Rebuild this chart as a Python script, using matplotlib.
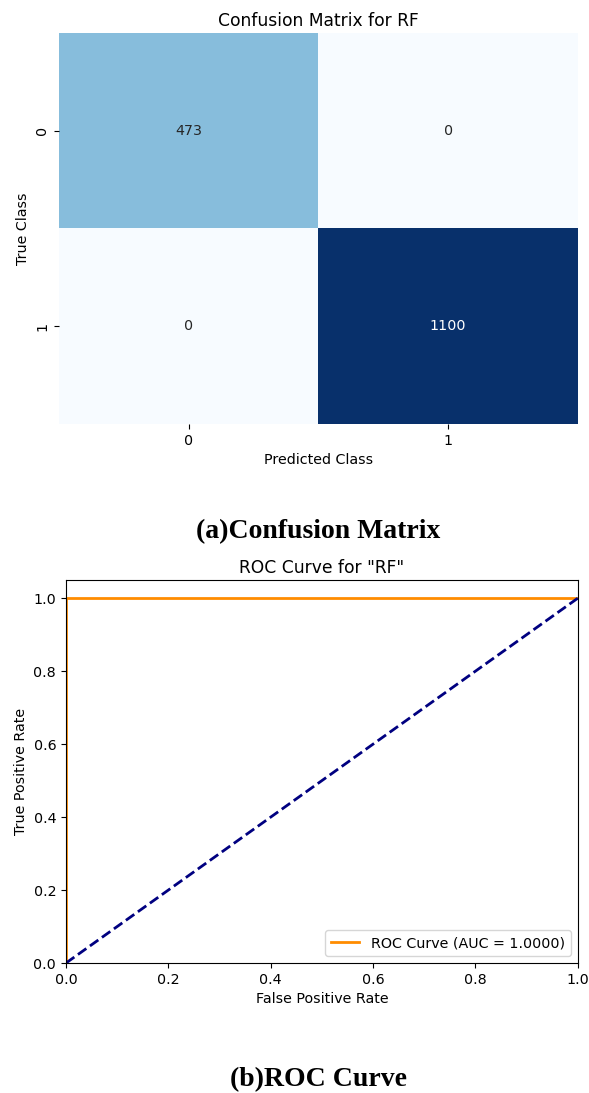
import matplotlib
matplotlib.use("Agg")
import matplotlib.pyplot as plt
import numpy as np
import seaborn as sns

# Data
class_labels = ["0", "1"]
cm_values = [[473, 0],
             [0, 1100]]
fpr = [0.0, 0.0, 1.0]
tpr = [0.0, 1.0, 1.0]
auc_value = 1.0
diag_x = [0, 1]
diag_y = [0, 1]
roc_xticks = [0.0, 0.2, 0.4, 0.6, 0.8, 1.0]
roc_yticks = [0.0, 0.2, 0.4, 0.6, 0.8, 1.0]

plt.rcParams['font.family'] = ['DejaVu Sans']
fig = plt.figure(figsize=(5.89, 10.93), dpi=100)

LBL = 10.3
TTL = 12.3
CX = 318 / 589

# Confusion matrix
ax1 = fig.add_axes([0.100, 0.6121, 0.881, 0.3577])
sns.heatmap(np.array(cm_values), annot=True, fmt="d", cmap="Blues", cbar=False,
            xticklabels=class_labels, yticklabels=class_labels, ax=ax1,
            annot_kws={"fontsize": LBL})
ax1.set_title("Confusion Matrix for RF", fontsize=TTL, pad=5)
ax1.set_xlabel("Predicted Class", fontsize=LBL)
ax1.set_ylabel("True Class", fontsize=LBL)
ax1.tick_params(labelsize=LBL)

fig.text(CX, 1 - 532/1093, "(a)Confusion Matrix", ha="center", va="center",
         family="Liberation Serif", fontweight="bold", fontsize=20)

# ROC curve
ax2 = fig.add_axes([0.112, 0.1189, 0.869, 0.3505])
ax2.plot(fpr, tpr, color="darkorange", lw=2, label=f"ROC Curve (AUC = {auc_value:.4f})")
ax2.plot(diag_x, diag_y, color="navy", lw=2, linestyle="--")
ax2.set_xlim(0.0, 1.0)
ax2.set_ylim(0.0, 1.05)
ax2.set_xticks(roc_xticks)
ax2.set_yticks(roc_yticks)
ax2.set_title('ROC Curve for "RF"', fontsize=TTL, pad=5)
ax2.set_xlabel("False Positive Rate", fontsize=LBL)
ax2.set_ylabel("True Positive Rate", fontsize=LBL)
ax2.tick_params(labelsize=LBL)
ax2.legend(loc="lower right", fontsize=LBL)

fig.text(CX, 1 - 1080/1093, "(b)ROC Curve", ha="center", va="center",
         family="Liberation Serif", fontweight="bold", fontsize=20)

fig.savefig("out.png", dpi=100)
